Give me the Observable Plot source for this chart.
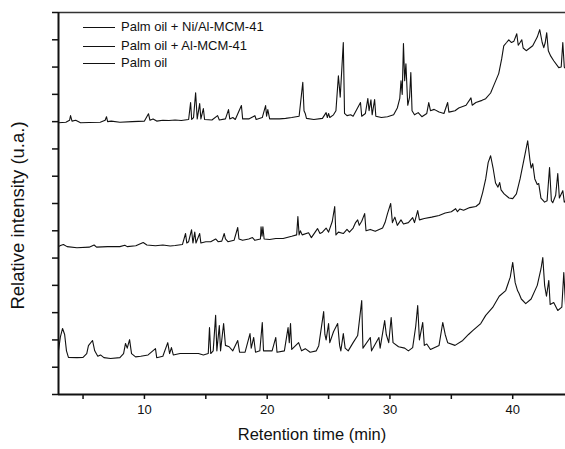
<!DOCTYPE html>
<html>
<head>
<meta charset="utf-8">
<script src="https://cdn.jsdelivr.net/npm/d3@7"></script>
<script src="https://cdn.jsdelivr.net/npm/@observablehq/plot@0.6"></script>
<style>
  html, body { margin: 0; padding: 0; background: #fff; }
  #wrap { position: relative; width: 565px; height: 449px; font-family: "Liberation Sans", Arial, sans-serif; }
  .lg { position: absolute; left: 83px; font-size: 13px; color: #111; height: 16px; line-height: 16px; white-space: nowrap; }
  .lg span.ln { display: inline-block; width: 32px; height: 0; border-top: 1px solid #111; vertical-align: middle; margin-right: 6px; }
</style>
</head>
<body>
<div id="wrap"></div>
<script>
// Series names (legend order)
const seriesNames = ["Palm oil + Ni/Al-MCM-41", "Palm oil + Al-MCM-41", "Palm oil"];

// [retention time (min), relative intensity (stacked, u.a.)]
const niAlData = [
[3.0,9.96],[3.6,9.98],[3.9,10.05],[3.98,10.22],[4.1,10.02],[4.4,10.05],[4.8,9.96],[5.5,9.97],[6.4,9.98],[6.8,10.05],
[6.91,10.18],[7.0,10.0],[7.3,10.02],[8.0,9.98],[9.0,10.0],[10.0,10.02],[10.33,10.29],[10.45,10.05],[10.7,10.1],[11.0,10.02],
[11.5,10.05],[12.0,10.04],[12.5,10.06],[13.0,10.04],[13.6,10.08],[13.76,10.7],[13.85,10.08],[14.0,10.15],[14.17,11.06],[14.3,10.1],
[14.5,10.66],[14.6,10.1],[14.8,10.48],[14.9,10.08],[15.5,10.06],[15.96,10.22],[16.1,10.06],[16.6,10.1],[16.85,10.44],[16.95,10.1],
[17.2,10.15],[17.4,10.08],[17.9,10.59],[18.0,10.1],[18.5,10.1],[19.0,10.22],[19.1,10.08],[19.6,10.15],[19.87,10.59],[19.95,10.2],
[20.05,10.44],[20.2,10.1],[21.0,10.1],[21.5,10.12],[22.0,10.15],[22.6,10.2],[22.9,11.44],[23.0,10.4],[23.1,10.3],[23.2,10.12],
[23.8,10.08],[24.5,10.12],[24.8,10.33],[24.9,10.15],[25.0,10.3],[25.1,10.15],[25.4,10.25],[25.6,10.4],[25.8,11.68],[25.95,10.9],
[26.2,12.9],[26.3,10.3],[26.5,10.22],[26.8,10.25],[27.0,10.2],[27.6,10.7],[27.7,10.2],[28.0,10.3],[28.2,10.85],[28.3,10.4],
[28.45,10.8],[28.55,10.25],[28.75,10.81],[28.85,10.2],[29.3,10.15],[29.8,10.18],[30.3,10.25],[30.6,10.5],[30.8,10.85],[30.9,11.5],
[31.0,11.0],[31.1,12.86],[31.2,11.5],[31.3,12.12],[31.45,10.6],[31.6,10.9],[31.7,11.8],[31.8,10.4],[32.0,10.25],[32.3,10.33],
[32.6,10.18],[33.0,10.3],[33.16,10.7],[33.3,10.4],[33.6,10.45],[34.0,10.35],[34.4,10.3],[34.7,10.7],[34.8,10.35],[35.3,10.4],
[35.6,10.5],[36.2,10.6],[36.6,10.87],[36.7,10.6],[37.0,10.7],[37.5,10.78],[37.8,10.84],[38.2,11.05],[38.45,11.32],[38.86,11.76],
[39.1,12.3],[39.27,12.78],[39.5,12.9],[39.68,13.0],[39.9,12.9],[40.1,12.95],[40.33,13.22],[40.45,12.8],[40.6,12.9],[40.74,13.0],
[40.85,12.7],[41.1,12.6],[41.63,12.78],[42.0,13.1],[42.2,13.37],[42.4,12.9],[42.53,12.71],[42.65,12.9],[42.77,13.26],[42.9,12.6],
[43.1,12.4],[43.34,12.23],[43.75,11.98],[43.95,12.0],[44.08,12.9],[44.2,12.0],[44.3,11.95]
];

const alData = [
[3.0,5.42],[3.16,5.46],[3.4,5.5],[3.7,5.42],[4.5,5.38],[5.5,5.4],[5.9,5.48],[6.1,5.4],[7.0,5.42],[8.0,5.42],
[8.4,5.47],[8.6,5.42],[9.3,5.45],[9.9,5.57],[10.2,5.48],[10.9,5.45],[11.5,5.48],[12.1,5.44],[12.5,5.46],[13.1,5.5],
[13.35,5.9],[13.45,5.55],[13.6,5.6],[13.84,6.04],[13.95,5.55],[14.1,5.95],[14.2,5.55],[14.5,5.9],[14.6,5.55],[15.0,5.6],
[15.4,5.6],[15.8,5.7],[16.0,5.6],[16.3,5.62],[16.5,5.9],[16.6,5.7],[16.8,5.6],[17.3,5.65],[17.6,6.12],[17.7,5.7],
[18.0,5.65],[18.5,5.7],[18.8,5.75],[19.0,5.65],[19.45,5.7],[19.5,6.15],[19.58,5.8],[19.65,6.15],[19.75,5.7],[20.2,5.68],
[20.7,5.72],[21.3,5.72],[22.0,5.8],[22.4,5.85],[22.5,6.52],[22.6,5.85],[22.7,6.0],[22.85,5.85],[23.37,5.93],[23.6,5.75],
[24.1,6.08],[24.3,5.9],[24.5,5.95],[24.8,6.1],[25.0,5.95],[25.3,6.34],[25.5,6.89],[25.6,5.85],[25.8,5.95],[26.2,5.9],
[26.5,6.05],[26.7,5.95],[27.0,6.1],[27.2,6.3],[27.37,6.4],[27.5,6.2],[27.7,6.35],[27.94,6.63],[28.05,6.0],[28.4,6.05],
[28.8,5.98],[29.4,6.1],[29.6,6.3],[29.8,6.63],[30.06,7.0],[30.2,6.3],[30.4,6.5],[30.6,6.2],[30.9,6.4],[31.1,6.25],
[31.5,6.3],[31.85,6.48],[32.0,6.3],[32.26,6.74],[32.4,6.4],[32.8,6.45],[33.4,6.5],[34.0,6.56],[34.5,6.65],[35.0,6.7],
[35.35,6.81],[35.5,6.7],[35.7,6.8],[36.0,6.75],[36.5,6.85],[37.0,6.89],[37.3,7.0],[37.55,7.4],[37.8,7.9],[38.0,8.5],
[38.2,8.75],[38.4,8.3],[38.6,7.75],[38.8,7.6],[38.94,7.77],[39.05,7.5],[39.3,7.35],[39.7,7.2],[40.0,7.18],[40.3,7.35],
[40.6,7.9],[41.0,8.8],[41.22,9.3],[41.4,8.6],[41.5,8.3],[41.63,8.46],[41.8,7.9],[42.0,7.7],[42.12,7.73],[42.3,7.2],
[42.6,7.05],[42.8,7.1],[43.0,8.32],[43.15,7.1],[43.26,7.03],[43.5,7.3],[43.67,8.1],[43.8,7.2],[44.08,7.47],[44.2,7.05],[44.3,7.1]
];

const palmData = [
[3.0,1.61],[3.15,2.1],[3.33,2.42],[3.5,2.2],[3.65,1.6],[3.81,1.36],[4.5,1.35],[5.0,1.36],[5.3,1.5],[5.44,1.79],
[5.77,1.98],[5.95,1.6],[6.2,1.4],[6.42,1.45],[6.7,1.35],[7.24,1.32],[8.0,1.35],[8.3,1.5],[8.46,1.87],[8.6,1.7],
[8.79,2.01],[8.95,1.5],[9.28,1.38],[9.7,1.4],[10.3,1.45],[10.9,1.68],[11.0,1.35],[11.5,1.4],[11.9,1.9],[12.05,1.5],
[12.2,1.72],[12.35,1.45],[12.9,1.5],[13.3,1.5],[13.8,1.5],[14.4,1.5],[14.8,1.45],[15.2,1.5],[15.3,2.45],[15.4,1.5],
[15.6,1.6],[15.8,2.9],[15.9,1.6],[16.1,2.53],[16.2,1.6],[16.45,2.6],[16.6,1.8],[16.9,1.75],[17.2,1.6],[17.6,1.98],
[17.75,1.55],[18.2,1.55],[18.6,2.23],[18.7,1.7],[18.9,2.09],[19.05,1.55],[19.4,1.6],[19.6,2.64],[19.7,1.6],[20.4,1.6],
[20.7,2.09],[20.8,1.55],[21.4,1.6],[21.7,2.45],[21.8,1.9],[21.9,2.6],[22.0,1.65],[22.56,1.9],[22.8,1.6],[23.1,1.68],
[23.5,1.55],[24.0,1.6],[24.2,1.79],[24.6,3.04],[24.7,2.2],[24.8,2.0],[25.0,2.6],[25.1,1.9],[25.4,2.3],[25.74,2.6],
[25.9,1.8],[26.0,1.6],[26.2,2.23],[26.35,1.7],[26.6,1.6],[27.0,1.9],[27.37,2.16],[27.7,3.44],[27.8,1.7],[28.4,2.09],
[28.5,1.6],[29.1,2.09],[29.2,1.7],[29.57,2.71],[29.7,2.2],[29.9,1.9],[30.1,2.82],[30.25,1.9],[30.7,1.75],[31.2,1.7],
[31.5,1.6],[31.85,1.72],[32.1,2.5],[32.26,3.26],[32.4,2.0],[32.67,2.64],[32.8,1.8],[33.0,1.85],[33.3,1.65],[34.0,1.8],
[34.3,2.64],[34.5,2.2],[34.7,1.9],[35.3,1.8],[35.93,1.98],[36.4,2.2],[36.74,2.34],[37.4,2.6],[37.8,2.9],[38.37,3.19],
[38.9,3.6],[39.43,3.81],[39.8,4.3],[40.0,4.84],[40.2,4.1],[40.4,3.8],[40.5,3.72],[40.7,3.5],[41.06,3.33],[41.5,3.5],
[42.0,4.0],[42.3,4.6],[42.45,5.02],[42.6,4.0],[42.75,3.6],[42.94,4.18],[43.05,3.3],[43.34,3.37],[43.67,3.08],[44.0,3.2],
[44.16,4.47],[44.3,3.3]
];

const xDomain = [3, 44.3];
const yDomain = [0, 14];
const xMajorTicks = [10, 20, 30, 40];
const xMinorTicks = [5, 15, 25, 35];
const yTicks = d3.range(0, 15);
const xLabel = "Retention time (min)";
const yLabel = "Relative intensity (u.a.)";

const font = "Liberation Sans, Arial, sans-serif";
const series = [niAlData, alData, palmData];

const chart = Plot.plot({
  width: 565,
  height: 449,
  marginLeft: 58,
  marginRight: 0,
  marginTop: 12,
  marginBottom: 55,
  style: { fontFamily: font, fontSize: "13px", color: "#111", background: "#fff", overflow: "visible" },
  x: { domain: xDomain },
  y: { domain: yDomain },
  marks: [
    ...series.map(s => Plot.line(s, { x: d => d[0], y: d => d[1], stroke: "#111", strokeWidth: 1.1 })),
    Plot.axisX({ ticks: xMajorTicks, tickSize: 5, tickPadding: 5, fontSize: 13, label: null, stroke: "#111", strokeWidth: 1.5 }),
    Plot.axisX({ ticks: xMinorTicks, tickSize: 5, tickFormat: () => "", label: null, stroke: "#111", strokeWidth: 1.5 }),
    Plot.axisY({ ticks: yTicks, tickSize: 6, tickFormat: () => "", label: null, stroke: "#111", strokeWidth: 1.5 }),
    Plot.ruleY([yDomain[0]], { stroke: "#111", strokeWidth: 2 }),
    Plot.ruleY([yDomain[1]], { stroke: "#333", strokeWidth: 1.5 }),
    Plot.ruleX([xDomain[0]], { stroke: "#111", strokeWidth: 2 }),
    Plot.text([xLabel], { frameAnchor: "bottom", dy: 45, fontSize: 16.5, fill: "#111", text: d => d }),
    Plot.text([yLabel], { frameAnchor: "left", textAnchor: "middle", dx: -40, dy: 12, rotate: -90, fontSize: 18.5, fill: "#111", text: d => d })
  ]
});

const wrap = document.getElementById("wrap");
wrap.appendChild(chart);
const legendTops = [19, 38, 55];
seriesNames.forEach((name, i) => {
  const div = document.createElement("div");
  div.className = "lg";
  div.style.top = legendTops[i] + "px";
  div.innerHTML = '<span class="ln"></span>' + name;
  wrap.appendChild(div);
});
</script>
</body>
</html>
